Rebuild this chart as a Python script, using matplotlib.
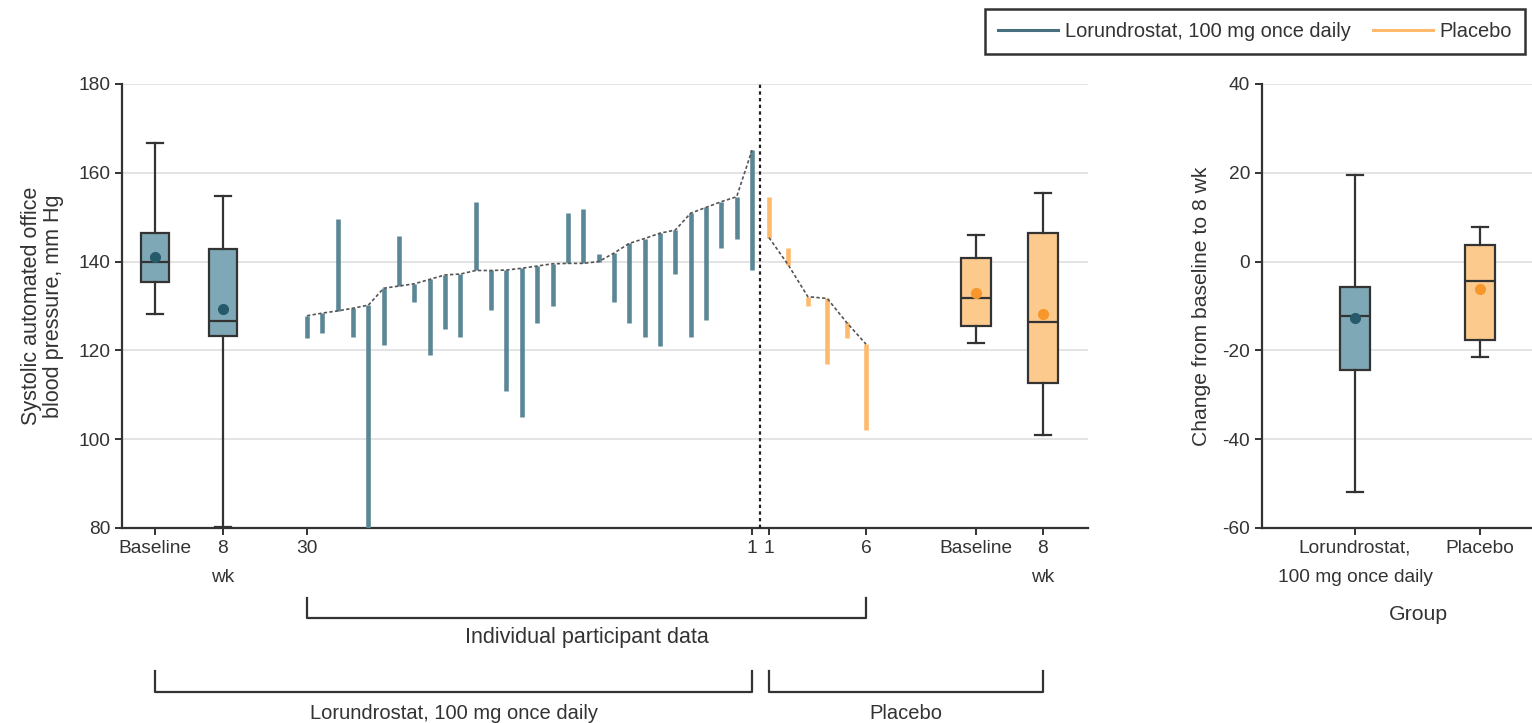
"""Office SBP: lorundrostat 100 mg vs placebo, boxes plus individual participant bars."""

import matplotlib

matplotlib.use("Agg")
import matplotlib.pyplot as plt
import numpy as np
from matplotlib.lines import Line2D

plt.rcParams["font.family"] = ["Liberation Sans", "DejaVu Sans"]
plt.rcParams["axes.unicode_minus"] = False

# ── Data ─────────────────────────────────────────────────────────────────────

# Lorundrostat participants, shown left to right as participant 30 ... 1
lor_baseline = [127.8, 128.4, 128.9, 129.5, 130.2, 134.0, 134.5, 135.0, 136.0, 137.0,
                137.2, 138.0, 138.0, 138.1, 138.5, 139.0, 139.5, 139.6, 139.6, 140.0,
                141.9, 144.1, 145.2, 146.4, 147.1, 150.9, 152.2, 153.5, 154.6, 165.1]
lor_week8 = [122.9, 123.9, 149.6, 123.1, 80.0, 121.2, 145.8, 131.0, 119.0, 124.8,
             123.1, 153.5, 129.0, 110.9, 105.1, 126.1, 129.9, 150.9, 151.8, 141.6,
             131.0, 126.1, 123.1, 121.0, 137.2, 123.1, 126.8, 143.0, 145.0, 138.1]

# Placebo participants, shown left to right as participant 1 ... 6
pbo_baseline = [145.4, 139.2, 132.1, 131.7, 126.3, 121.4]
pbo_week8 = [154.6, 143.0, 129.9, 116.9, 122.7, 102.1]

# box summaries: (whislo, q1, median, q3, whishi, mean)
lor_base_box = [128.1, 135.4, 139.8, 146.5, 166.8, 141.0]
lor_wk8_box = [80.3, 123.2, 126.7, 142.8, 154.8, 129.4]
pbo_base_box = [121.6, 125.5, 131.7, 140.9, 145.9, 133.0]
pbo_wk8_box = [101.0, 112.7, 126.3, 146.4, 155.4, 128.2]

# change from baseline to 8 wk
groups = ["Lorundrostat,\n100 mg once daily", "Placebo"]
lor_change_box = [-51.8, -24.5, -12.3, -5.7, 19.5, -12.6]
pbo_change_box = [-21.5, -17.6, -4.3, 3.8, 7.9, -6.1]

# ── Styling ──────────────────────────────────────────────────────────────────

TEAL_BAR = "#5a8796"
TEAL_BOX = "#7ea8b6"
TEAL_DOT = "#265a6a"
TEAL_LINE = "#47707e"
ORANGE_BAR = "#fdba6c"
ORANGE_BOX = "#fdca8e"
ORANGE_DOT = "#f7962a"
INK = "#333333"
GRID = "#e4e4e4"
TICK_FS = 13.8

W, H = 1532, 723


def _stats(vals):
    lo, q1, med, q3, hi, mean = vals
    return {"whislo": lo, "q1": q1, "med": med, "q3": q3, "whishi": hi, "mean": mean, "fliers": []}


def _boxes(ax, stats, positions, fills, dots, width, capwidth):
    bp = ax.bxp(
        [_stats(s) for s in stats],
        positions=positions,
        widths=width,
        capwidths=capwidth,
        showmeans=True,
        showfliers=False,
        patch_artist=True,
        boxprops={"edgecolor": INK, "linewidth": 1.6},
        medianprops={"color": INK, "linewidth": 1.6},
        whiskerprops={"color": INK, "linewidth": 1.6},
        capprops={"color": INK, "linewidth": 1.6},
        manage_ticks=False,
        zorder=3,
    )
    for patch, fc in zip(bp["boxes"], fills):
        patch.set_facecolor(fc)
    for m, dc in zip(bp["means"], dots):
        m.set_marker("o")
        m.set_markerfacecolor(dc)
        m.set_markeredgecolor(dc)
        m.set_markersize(7)
        m.set_zorder(4)


def _style(ax):
    for side in ("top", "right"):
        ax.spines[side].set_visible(False)
    for side in ("left", "bottom"):
        ax.spines[side].set_linewidth(1.6)
        ax.spines[side].set_color(INK)
    ax.tick_params(colors=INK, labelsize=TICK_FS, width=1.4, length=5)
    ax.yaxis.grid(True, color=GRID, linewidth=1.4, zorder=0)
    ax.set_axisbelow(True)


def _spaced(ax):
    # two-line tick labels sit further apart in the original
    for lab in ax.get_xticklabels():
        lab.set_linespacing(1.9)


fig = plt.figure(figsize=(W / 100, H / 100), dpi=100)

# ── Left panel: SBP in pixel-like x units ───────────────────────────────────

ax = fig.add_axes([122 / W, 1 - 528 / H, 966 / W, 444 / H])
ax.set_xlim(122, 1088)
ax.set_ylim(80, 180)
_style(ax)

x_lor = np.linspace(307, 752, len(lor_baseline))
x_pbo = np.linspace(769, 866, len(pbo_baseline))
x_boxes_lor = [155, 222.5]
x_boxes_pbo = [976, 1042.5]
x_split = 759.5

ax.vlines(x_lor, lor_baseline, lor_week8, color=TEAL_BAR, linewidth=3.3, zorder=3)
ax.vlines(x_pbo, pbo_baseline, pbo_week8, color=ORANGE_BAR, linewidth=3.3, zorder=3)
ax.plot(x_lor, lor_baseline, color="#555555", linewidth=1.2, dashes=(2.0, 1.4), zorder=4)
ax.plot(x_pbo, pbo_baseline, color="#555555", linewidth=1.2, dashes=(2.0, 1.4), zorder=4)
ax.axvline(x_split, color="#222222", linewidth=1.6, dashes=(1.5, 1.5), zorder=5)

_boxes(ax, [lor_base_box, lor_wk8_box], x_boxes_lor, [TEAL_BOX] * 2, [TEAL_DOT] * 2, 28, 16)
_boxes(ax, [pbo_base_box, pbo_wk8_box], x_boxes_pbo, [ORANGE_BOX] * 2, [ORANGE_DOT] * 2, 30, 16)

ax.set_xticks(
    x_boxes_lor + [x_lor[0], x_lor[-1], x_pbo[0], x_pbo[-1]] + x_boxes_pbo,
    ["Baseline", "8\nwk", str(len(lor_baseline)), "1", "1", str(len(pbo_baseline)), "Baseline", "8\nwk"],
)
_spaced(ax)
ax.set_yticks(np.arange(80, 181, 20))
ax.set_ylabel("Systolic automated office\nblood pressure, mm Hg", fontsize=15.5, color=INK,
              labelpad=10, linespacing=1.1)


def _bracket(x0, x1, y_line, y_top, label, y_text, size):
    tr = ax.get_xaxis_transform()
    ax.plot([x0, x0, x1, x1], [y_top, y_line, y_line, y_top], color=INK, linewidth=1.6,
            transform=tr, clip_on=False)
    ax.text((x0 + x1) / 2, y_text, label, transform=tr, ha="center", va="center",
            fontsize=size, color=INK)


_bracket(x_lor[0], x_pbo[-1], -0.203, -0.158, "Individual participant data", -0.247, 15.5)
_bracket(x_boxes_lor[0], x_lor[-1], -0.370, -0.322, "Lorundrostat, 100 mg once daily", -0.417, 14.5)
_bracket(x_pbo[0], x_boxes_pbo[1], -0.370, -0.322, "Placebo", -0.417, 14.5)

# ── Right panel: change from baseline ───────────────────────────────────────

ax2 = fig.add_axes([1262 / W, 1 - 528 / H, 270 / W, 444 / H])
ax2.set_xlim(-0.744, 1.416)
ax2.set_ylim(-60, 40)
_style(ax2)
_boxes(ax2, [lor_change_box, pbo_change_box], [0, 1], [TEAL_BOX, ORANGE_BOX],
       [TEAL_DOT, ORANGE_DOT], 0.24, 0.128)
ax2.set_xticks([0, 1], groups)
_spaced(ax2)
ax2.set_yticks(np.arange(-60, 41, 20))
ax2.set_ylabel("Change from baseline to 8 wk", fontsize=15.2, color=INK, labelpad=8)
ax2.set_xlabel("Group", fontsize=15.3, color=INK, labelpad=14)
ax2.xaxis.label.set_x(0.58)

# ── Legend ───────────────────────────────────────────────────────────────────

handles = [
    Line2D([], [], color=TEAL_LINE, linewidth=2.2, label="Lorundrostat, 100 mg once daily"),
    Line2D([], [], color=ORANGE_BAR, linewidth=2.2, label="Placebo"),
]
leg = fig.legend(
    handles=handles,
    loc="upper left",
    bbox_to_anchor=(985 / W, 1 - 9 / H),
    ncol=2,
    fontsize=14.4,
    frameon=True,
    fancybox=False,
    edgecolor=INK,
    framealpha=1,
    handlelength=3.0,
    handletextpad=0.35,
    columnspacing=1.1,
    borderpad=0.65,
    borderaxespad=0,
)
leg.get_frame().set_linewidth(1.8)
for t in leg.get_texts():
    t.set_color(INK)

fig.savefig("out.png", dpi=100)
plt.close(fig)
